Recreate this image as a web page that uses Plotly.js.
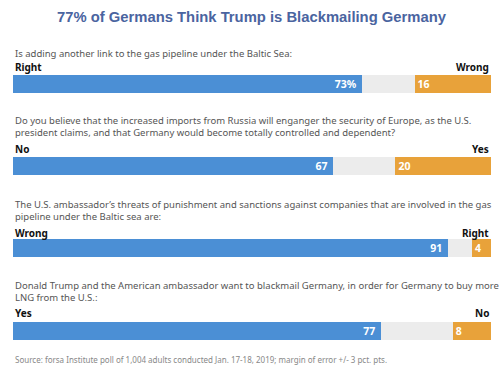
<!DOCTYPE html>
<html>
<head>
<meta charset="utf-8">
<script src="https://cdn.plot.ly/plotly-3.0.1.min.js"></script>
<style>html,body{margin:0;padding:0;background:#fff;}#chart{width:500px;height:378px;}</style>
</head>
<body>
<div id="chart"></div>
<script>
const chartTitle = '77% of Germans Think Trump is Blackmailing Germany';
const questions = [
  'Is adding another link to the gas pipeline under the Baltic Sea:',
  'Do you believe that the increased imports from Russia will enganger the security of Europe, as the U.S.<br>president claims, and that Germany would become totally controlled and dependent?',
  'The U.S. ambassador\u2019s threats of punishment and sanctions against companies that are involved in the gas<br>pipeline under the Baltic sea are:',
  'Donald Trump and the American ambassador want to blackmail Germany, in order for Germany to buy more<br>LNG from the U.S.:'
];
const leftLabels = ['Right', 'No', 'Wrong', 'Yes'];
const rightLabels = ['Wrong', 'Yes', 'Right', 'No'];
const majority = [73, 67, 91, 77];
const majorityText = ['73%', '67', '91', '77'];
const minority = [16, 20, 4, 8];
const minorityText = ['16', '20', '4', '8'];
const sourceText = 'Source: forsa Institute poll of 1,004 adults conducted Jan. 17-18, 2019; margin of error +/- 3 pct. pts.';

const H = 378;
const barTops = [75, 157, 239, 322];
const barH = 18;
const questionY = [53, 126.5, 210, 291.5];
const labelY = [67, 149, 233, 313];
const sourceY = 359;

const BLUE = '#4b8fd5', ORANGE = '#e8a23a', GRAY = '#ececec';
const FONT = 'Noto Sans, sans-serif';

const traces = [];
const layout = {
  width: 500, height: H,
  margin: {l: 13, r: 9, t: 0, b: 0},
  paper_bgcolor: '#fff', plot_bgcolor: '#fff',
  barmode: 'stack', bargap: 0,
  showlegend: false, hovermode: false,
  xaxis: {range: [0, 100], visible: false, fixedrange: true},
  annotations: [],
  font: {family: FONT}
};
const yp = px => 1 - px / H;

majority.forEach((m, i) => {
  const ax = i === 0 ? 'y' : 'y' + (i + 1);
  const axKey = i === 0 ? 'yaxis' : 'yaxis' + (i + 1);
  const cat = ['q' + i];
  traces.push({type: 'bar', orientation: 'h', x: [m], y: cat, yaxis: ax, xaxis: 'x',
    marker: {color: BLUE}, text: [majorityText[i] + '\u00a0'], textposition: 'inside', insidetextanchor: 'end',
    textangle: 0, textfont: {color: '#fff', size: 10.5, family: FONT, weight: 'bold'}, constraintext: 'none'});
  traces.push({type: 'bar', orientation: 'h', x: [100 - m - minority[i]], y: cat, yaxis: ax, xaxis: 'x',
    marker: {color: GRAY}, textposition: 'none'});
  traces.push({type: 'bar', orientation: 'h', x: [minority[i]], y: cat, yaxis: ax, xaxis: 'x',
    marker: {color: ORANGE}, text: [minorityText[i]], textposition: 'inside', insidetextanchor: 'start',
    textangle: 0, textfont: {color: '#fff', size: 10.5, family: FONT, weight: 'bold'}, constraintext: 'none'});
  layout[axKey] = {domain: [yp(barTops[i] + barH), yp(barTops[i])], range: [-0.5, 0.5],
    visible: false, fixedrange: true, type: 'category'};
  layout.annotations.push({xref: 'paper', yref: 'paper', x: 0, y: yp(questionY[i]),
    xanchor: 'left', yanchor: 'middle', align: 'left', showarrow: false, text: questions[i],
    font: {family: FONT, size: 9.5, color: '#555'}});
  layout.annotations.push({xref: 'paper', yref: 'paper', x: 0, y: yp(labelY[i]),
    xanchor: 'left', yanchor: 'middle', showarrow: false, text: '<b>' + leftLabels[i] + '</b>',
    font: {family: FONT, size: 10, color: '#111'}});
  layout.annotations.push({xref: 'paper', yref: 'paper', x: 1, y: yp(labelY[i]),
    xanchor: 'right', yanchor: 'middle', showarrow: false, text: '<b>' + rightLabels[i] + '</b>',
    font: {family: FONT, size: 10, color: '#111'}});
});
layout.annotations.push({xref: 'paper', yref: 'paper', x: 0, y: yp(sourceY),
  xanchor: 'left', yanchor: 'middle', showarrow: false, text: sourceText,
  font: {family: FONT, size: 8, color: '#888'}});
layout.annotations.push({xref: 'paper', yref: 'paper', x: 0.5, y: yp(17), xanchor: 'center', yanchor: 'middle',
  showarrow: false, text: '<b>' + chartTitle + '</b>',
  font: {family: 'Liberation Sans, Arial, sans-serif', size: 14.8, color: '#4a64a0'}});

Plotly.newPlot('chart', traces, layout, {displayModeBar: false, staticPlot: true});
</script>
</body>
</html>
